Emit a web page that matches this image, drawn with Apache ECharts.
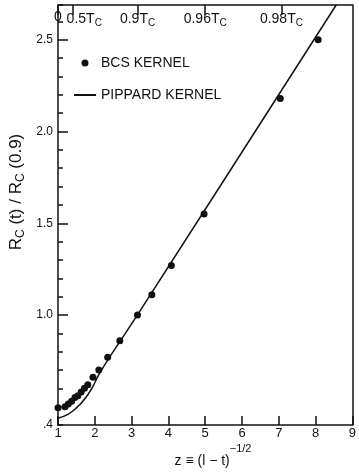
<!DOCTYPE html>
<html>
<head>
<meta charset="utf-8">
<script src="https://cdn.jsdelivr.net/npm/echarts@6/dist/echarts.min.js"></script>
<style>
html, body { margin: 0; padding: 0; background: #fff; }
#main { width: 359px; height: 472px; }
</style>
</head>
<body>
<div id="main"></div>
<script>
// BCS kernel points
var bcsZ = [1.0, 1.19, 1.28, 1.37, 1.46, 1.54, 1.63, 1.72, 1.81, 1.95, 2.11, 2.35, 2.68, 3.16, 3.55, 4.08, 4.97, 7.04, 8.07];
var bcsR = [0.494, 0.50, 0.515, 0.53, 0.55, 0.56, 0.58, 0.60, 0.62, 0.66, 0.70, 0.77, 0.86, 1.00, 1.11, 1.27, 1.55, 2.18, 2.50];

// Pippard kernel curve
var pippardZ = [1.0, 1.15, 1.32, 1.59, 1.81, 1.95, 2.11, 2.5, 3.16, 8.56];
var pippardR = [0.437, 0.447, 0.464, 0.51, 0.565, 0.61, 0.675, 0.80, 1.00, 2.69];

// top axis: temperature marks at z = (1-t)^-1/2
var topTickZ = [1, 1.414, 3.162, 5, 7.071];
var topTickText = ['0', '0.5T', '0.9T', '0.96T', '0.98T'];

var yLabelValues = [0.4, 1.0, 1.5, 2.0, 2.5];
var yMajorTicks = [1.0, 1.5, 2.0, 2.5];

var ink = '#111';
var font = 'Liberation Sans, Arial, sans-serif';

function pairs(xs, ys) {
	var out = [];
	for (var i = 0; i < xs.length; i++) {
		out.push([xs[i], ys[i]]);
	}
	return out;
}

var myChart = echarts.init(document.getElementById('main'));
var option = {
	backgroundColor: '#fff',
	animation: false,
	textStyle: { fontFamily: font, color: ink },
	grid: { left: 58, right: 3, top: 5, bottom: 47 },
	legend: {
		left: 73,
		top: 56,
		padding: 0,
		orient: 'vertical',
		itemWidth: 22,
		itemHeight: 7,
		itemGap: 18,
		textStyle: { fontSize: 14, color: ink, fontFamily: font },
		data: [
			{ name: 'BCS KERNEL', icon: 'circle', itemStyle: { color: ink, opacity: 1 } },
			{ name: 'PIPPARD KERNEL', itemStyle: { opacity: 0 } }
		]
	},
	xAxis: [{
		type: 'value',
		min: 1,
		max: 9,
		interval: 1,
		position: 'bottom',
		splitLine: { show: false },
		axisLine: { show: true, onZero: false, lineStyle: { color: ink, width: 1.5 } },
		axisTick: { show: true, inside: true, length: 9, lineStyle: { color: ink, width: 1.5 } },
		axisLabel: { margin: 2, fontSize: 13, color: ink }
	}, {
		type: 'value',
		min: 1,
		max: 9,
		position: 'top',
		splitLine: { show: false },
		axisLine: { show: true, onZero: false, lineStyle: { color: ink, width: 1.5 } },
		axisTick: { show: true, inside: true, length: 10, customValues: topTickZ, lineStyle: { color: ink, width: 1.5 } },
		axisLabel: {
			inside: true,
			margin: 5,
			customValues: topTickZ,
			formatter: function(v) {
				for (var i = 0; i < topTickZ.length; i++) {
					if (Math.abs(v - topTickZ[i]) < 1e-6) {
						if (i === 0) return '{t|0}';
						var st = i === 1 ? 'm' : 't';
						return '{' + st + '|' + topTickText[i] + '}{c|C}';
					}
				}
				return '';
			},
			rich: {
				t: { fontSize: 14, color: ink, fontFamily: font },
				m: { fontSize: 14, color: ink, fontFamily: font, padding: [0, 0, 0, 22] },
				c: { fontSize: 10, color: ink, fontFamily: font, padding: [8, 0, 0, 0] }
			}
		}
	}],
	yAxis: [{
		type: 'value',
		min: 0.4,
		max: 2.69,
		interval: 0.1,
		position: 'left',
		splitLine: { show: false },
		axisLine: { show: true, onZero: false, lineStyle: { color: ink, width: 1.5 } },
		axisTick: { show: true, inside: true, length: 5, lineStyle: { color: ink, width: 1.5 } },
		axisLabel: {
			margin: 5,
			fontSize: 12,
			color: ink,
			customValues: yLabelValues,
			formatter: function(v) {
				return v < 0.45 ? '.4' : v.toFixed(1);
			}
		}
	}, {
		type: 'value',
		min: 0.4,
		max: 2.69,
		position: 'left',
		splitLine: { show: false },
		axisLine: { show: false, onZero: false },
		axisTick: { show: true, inside: true, length: 10, customValues: yMajorTicks, lineStyle: { color: ink, width: 1.5 } },
		axisLabel: { show: false }
	}, {
		type: 'value',
		min: 0.4,
		max: 2.69,
		position: 'right',
		splitLine: { show: false },
		axisLine: { show: true, onZero: false, lineStyle: { color: ink, width: 1.5 } },
		axisTick: { show: false },
		axisLabel: { show: false }
	}],
	graphic: [{
		type: 'text',
		x: 16,
		y: 192,
		rotation: Math.PI / 2,
		style: {
			text: '{r|R}{s|C}{r| (t) / R}{s|C}{r| (0.9)}',
			align: 'center',
			verticalAlign: 'middle',
			rich: {
				r: { fontSize: 17, fill: ink, fontFamily: font },
				s: { fontSize: 12, fill: ink, fontFamily: font, padding: [9, 0, 0, 0] }
			}
		}
	}, {
		type: 'text',
		x: 213,
		y: 461,
		style: {
			text: '{r|z \u2261 (l \u2212 t)}{p|\u22121/2}',
			align: 'center',
			verticalAlign: 'middle',
			rich: {
				r: { fontSize: 14, fill: ink, fontFamily: font },
				p: { fontSize: 11, fill: ink, fontFamily: font, padding: [0, 0, 24, 0] }
			}
		}
	}],
	series: [{
		name: 'BCS KERNEL',
		type: 'scatter',
		xAxisIndex: 0,
		yAxisIndex: 0,
		symbol: 'circle',
		symbolSize: 7,
		itemStyle: { color: ink, opacity: 1 },
		data: pairs(bcsZ, bcsR),
		z: 3
	}, {
		name: 'PIPPARD KERNEL',
		type: 'line',
		xAxisIndex: 0,
		yAxisIndex: 0,
		showSymbol: false,
		symbol: 'none',
		smooth: 0.3,
		lineStyle: { color: ink, width: 1.5 },
		itemStyle: { color: ink },
		data: pairs(pippardZ, pippardR),
		z: 2
	}]
};
myChart.setOption(option);
</script>
</body>
</html>
